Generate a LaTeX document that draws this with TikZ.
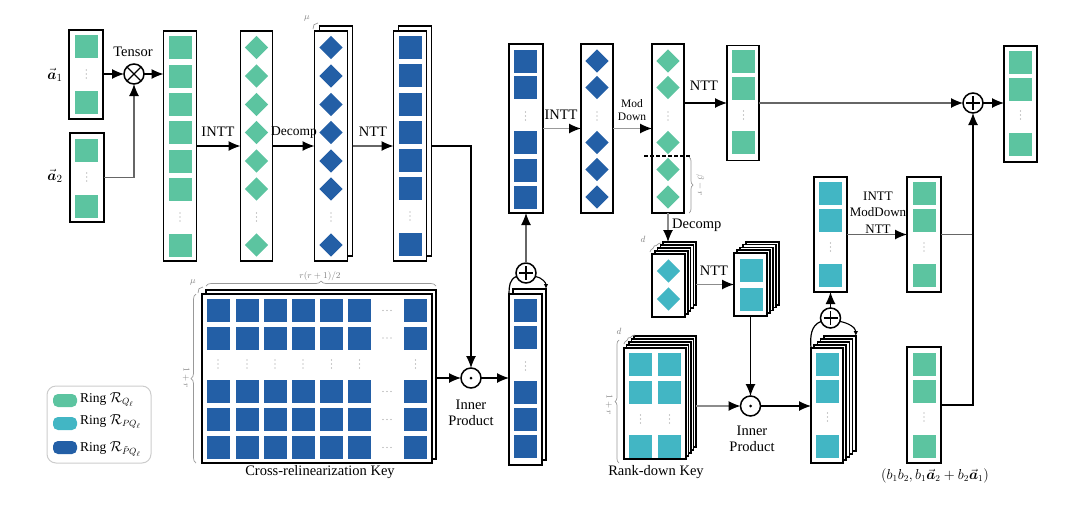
\documentclass[tikz,border=0pt]{standalone}
\usepackage{amsmath}
\usepackage{fontspec}
\setmainfont{Liberation Serif}
\usetikzlibrary{arrows.meta,decorations.pathreplacing,calc}
\definecolor{gG}{RGB}{92,196,160}
\definecolor{gC}{RGB}{66,182,196}
\definecolor{gB}{RGB}{35,95,166}
\definecolor{lgray}{RGB}{150,150,150}
\newcommand\Sq[3]{\fill[#1] ({#2-11.5},{#3-11.5}) rectangle ({#2+11.5},{#3+11.5});}
\newcommand\Dm[3]{\fill[#1] (#2,{#3-11.7}) -- ({#2+11.7},#3) -- (#2,{#3+11.7}) -- ({#2-11.7},#3) -- cycle;}
\newcommand\Vd[2]{\foreach \kk in {-4,0,4}{\fill[lgray] (#1,{#2+\kk}) circle (0.65);}}
\newcommand\Hd[2]{\foreach \kk in {-4,0,4}{\fill[lgray] ({#1+\kk},#2) circle (0.65);}}
\newcommand\Stack[8]{%
  \foreach \k in {#6,...,1}{\node[colbox,minimum width=#4,minimum height=#5] (#1-\k) at ({#2+\k*#7},{#3+\k*#8}) {};}%
  \node[colbox,minimum width=#4,minimum height=#5] (#1) at (#2,#3) {};}
\newcommand\PlusIn[1]{\draw[line width=1.1pt] ($(#1.center)+(0,-7)$) -- ($(#1.center)+(0,7)$) ($(#1.center)+(-7,0)$) -- ($(#1.center)+(7,0)$);}
\begin{document}
\begin{tikzpicture}[x=1pt,y=-1pt,
 colbox/.style={draw=black,fill=white,line width=1.5pt,inner sep=0pt,outer sep=0pt},
 op/.style={circle,draw=black,fill=white,line width=1.5pt,minimum size=20pt,inner sep=0pt,outer sep=0pt},
 arr/.style={line width=1.2pt,draw=#1,-{Latex[length=12pt,width=10pt,color=black]}},
 arr/.default=black,
 ln/.style={line width=1.2pt,draw=#1},
 ln/.default=black,
 smarr/.style={line width=1.1pt,draw=black,-{Latex[length=5pt,width=4.5pt]}},
 lbl/.style={font=\fontsize{14.5}{16}\selectfont,inner sep=1pt,align=center},
 mlbl/.style={font=\fontsize{13}{16.5}\selectfont,inner sep=1pt,align=center},
 slbl/.style={font=\fontsize{11.5}{13}\selectfont,inner sep=1pt,align=center},
 glbl/.style={font=\fontsize{9}{10}\selectfont,text=black!50,inner sep=1pt},
 legtxt/.style={font=\fontsize{13.5}{14}\selectfont,inner sep=0pt,anchor=west},
 brc/.style={draw=black!40,line width=0.7pt,decorate,decoration={brace,amplitude=#1}},
 brc/.default=5,
]
\useasboundingbox (0,0) rectangle (1084,504);

% ---------- inputs
\node[colbox,minimum width=34,minimum height=89] (a1) at (86,74.5) {};
\Sq{gG}{86.3}{46.5}\Sq{gG}{86.3}{102.5}\Vd{86.3}{74}
\node[colbox,minimum width=34,minimum height=89] (a2) at (87,177.5) {};
\Sq{gG}{86.8}{150}\Sq{gG}{86.8}{206}\Vd{86.8}{177}
\node[font=\fontsize{15}{16}\selectfont] (la1) at (55,75) {$\vec{\boldsymbol a}_1$};
\node[font=\fontsize{15}{16}\selectfont] (la2) at (55,176) {$\vec{\boldsymbol a}_2$};

\node[op] (T) at (134,74) {};
\draw[line width=1.2pt] (T.north west) -- (T.south east) (T.north east) -- (T.south west);
\node[lbl] (lT) at (133,52) {Tensor};

% ---------- column 1..4
\node[colbox,minimum width=33,minimum height=230] (c1) at (180,146) {};
\foreach \y in {47.5,76,104.5,132.5,161,189,245}{\Sq{gG}{180}{\y}}
\Vd{180}{217}
\node[colbox,minimum width=32,minimum height=230] (c2) at (256.5,146) {};
\foreach \y in {47.5,76,104.5,132.5,161,189,245}{\Dm{gG}{256.5}{\y}}
\Vd{256.5}{217}
\Stack{c3}{331}{146}{33}{230}{1}{5}{-5}
\foreach \y in {47.5,76,104.5,132.5,161,189,245}{\Dm{gB}{331}{\y}}
\Vd{331}{217}
\Stack{c4}{410}{146}{33}{230}{1}{5}{-5}
\foreach \y in {47,75.5,104.5,132.5,160.5,188.5,244.5}{\Sq{gB}{410}{\y}}
\Vd{410}{216}
\draw[brc=2] (313,29) -- (318,23);
\node[glbl] (mu1) at (307,18) {$\mu$};

% ---------- cross-relinearization key
\Stack{K}{317}{378.5}{230}{169}{1}{4}{-4}
\foreach \x in {218,247,275,303,331.5,359.5,415.5}{
  \foreach \y in {310.5,338,391.5,419.5,447.5}{\Sq{gB}{\x}{\y}}
  \Vd{\x}{364}}
\foreach \y in {310.5,338,391.5,419.5,447.5}{\Hd{387}{\y}}
\draw[brc=5] (206,286) -- (436,286);
\node[glbl] (lrr) at (320,276) {$r(r+1)/2$};
\draw[brc=5] (196,463) -- (196,294);
\node[glbl,rotate=-90] (l1r) at (186,378) {$1+r$};
\draw[brc=2] (198,293) -- (203,287);
\node[glbl] (mu2) at (193,282) {$\mu$};
\node[lbl] (lK) at (320,472) {Cross-relinearization Key};

% ---------- inner product 1
\node[op] (IP1) at (471,378) {};
\fill (IP1.center) circle (1.5);
\node[lbl] (lIP1) at (471,413) {Inner\\Product};

% ---------- column 5 and sum
\Stack{c5}{525.5}{379.5}{33}{171}{1}{4}{-5}
\foreach \y in {310.5,337.5,392,419.5,446.5}{\Sq{gB}{525.5}{\y}}
\Vd{525.5}{366}
\node[op] (P1) at (526,273) {};
\PlusIn{P1}

% ---------- columns 6..9
\node[colbox,minimum width=34,minimum height=169] (c6) at (526,128.5) {};
\foreach \y in {61,87.5,142.5,170,197}{\Sq{gB}{525.5}{\y}}
\Vd{525.5}{116}
\node[colbox,minimum width=32,minimum height=169] (c7) at (597,128.5) {};
\foreach \y in {61,87.5,142.5,169.5,197}{\Dm{gB}{597}{\y}}
\Vd{597}{116}
\node[colbox,minimum width=32,minimum height=169] (c8) at (668,128.5) {};
\foreach \y in {61,87.5,142.5,169.5,197}{\Dm{gG}{668}{\y}}
\Vd{668}{116}
\draw[dashed,line width=1.1pt,dash pattern=on 4pt off 2pt] (644,156) -- (691,156);
\draw[brc=4] (689,157) -- (689,213);
\node[glbl,rotate=-90] (lbr) at (700,185) {$\beta-r$};
\node[colbox,minimum width=32,minimum height=115] (c9) at (743,103) {};
\foreach \y in {61.5,88.5,142.5}{\Sq{gG}{743.5}{\y}}
\Vd{743.5}{115}

\node[op] (P3) at (973,103) {};
\PlusIn{P3}
\node[colbox,minimum width=33,minimum height=116] (F) at (1020.5,104) {};
\foreach \y in {62.5,89.5,144}{\Sq{gG}{1020.5}{\y}}
\Vd{1020.5}{115}

% ---------- decomp / NTT stacks
\Stack{D}{668.5}{285.5}{33}{63}{4}{2.8}{-3}
\Dm{gC}{668.5}{271}\Dm{gC}{668.5}{299}
\draw[brc=2] (650,252) -- (661,243);
\node[glbl] (ld1) at (643,239) {$d$};
\Stack{N}{750.5}{284.5}{33}{63}{4}{3}{-2.8}
\Sq{gC}{751}{270.5}\Sq{gC}{751}{299}

% ---------- rank-down key
\Stack{R}{655}{403.5}{62}{111}{4}{2.5}{-3}
\foreach \x in {640.5,669.5}{
  \foreach \y in {364.5,392.5,446.5}{\Sq{gC}{\x}{\y}}
  \Vd{\x}{419}}
\draw[brc=2] (624,344) -- (635,335);
\node[glbl] (ld2) at (619,331) {$d$};
\draw[brc=4] (619,463) -- (619,340);
\node[glbl,rotate=-90] (l1r2) at (609,405) {$1+r$};
\node[lbl] (lR) at (656,472) {Rank-down Key};

\node[op] (IP2) at (750.5,406) {};
\fill (IP2.center) circle (1.5);
\node[lbl] (lIP2) at (752,438.5) {Inner\\Product};

% ---------- sum stack
\Stack{S}{827}{405.5}{32}{115}{4}{3.2}{-3}
\foreach \y in {364.5,391.5,446}{\Sq{gC}{827.5}{\y}}
\Vd{827.5}{417}
\node[op] (P2) at (830.5,318) {};
\PlusIn{P2}

\node[colbox,minimum width=33,minimum height=115] (B1) at (830.5,234.5) {};
\foreach \y in {193.5,220.5,275}{\Sq{gC}{830.5}{\y}}
\Vd{830.5}{247}
\node[colbox,minimum width=34,minimum height=115] (B2) at (924,234.5) {};
\foreach \y in {193.5,220.5,275}{\Sq{gG}{924}{\y}}
\Vd{924}{247}
\node[colbox,minimum width=34,minimum height=116] (B3) at (924,405) {};
\foreach \y in {364.5,391.5,446}{\Sq{gG}{924}{\y}}
\Vd{924}{417}
\node[font=\fontsize{13.5}{15}\selectfont] (lB3) at (935,476) {$(b_1b_2,b_1\vec{\boldsymbol a}_2+b_2\vec{\boldsymbol a}_1)$};

% ---------- connectors
\draw[arr] (a1.east |- T.west) -- (T.west);
\draw[arr=black!60] (a2.east) -| (T.south);
\draw[arr] (T.east) -- (T.east -| c1.west);
\draw[arr] (c1.east) -- (c2.west);
\node[lbl] (lc1) at (218,132) {INTT};
\draw[arr] (c2.east) -- (c3.west);
\node[lbl,font=\fontsize{13.5}{15}\selectfont] (lc2) at (294,133) {Decomp};
\draw[arr=black!60] (c4.west -| c3-1.east) -- (c4.west);
\node[lbl] (lc3) at (373,132) {NTT};
\draw[arr] (c4.east -| c4-1.east) -| (IP1.north);
\draw[arr] (IP1.west -| K-1.east) -- (IP1.west);
\draw[arr] (IP1.east) -- (IP1.east -| c5.west);
\draw[ln] (c5.north west) to[out=90,in=200] (P1.200);
\draw[smarr] (P1.-20) to[out=-10,in=90] (c5-1.north east);
\draw[arr=black!60] (P1.north) -- (P1.north |- c6.south);
\draw[arr=black!40] (c6.east) -- (c7.west);
\node[lbl] (lc6) at (561,115) {INTT};
\draw[arr=black!40] (c7.east) -- (c8.west);
\node[slbl] (lc7) at (632,110) {Mod\\Down};
\draw[arr] (c8.east |- c9.west) -- (c9.west);
\node[lbl] (lc8) at (704,86) {NTT};
\draw[arr=black!60] (c9.east) -- (c9.east -| P3.west);
\draw[arr] (P3.east) -- (P3.east -| F.west);
\draw[arr=black!45] (c8.south) -- (c8.south |- D-4.north);
\node[lbl,anchor=west] (lc8d) at (671,225) {Decomp};
\draw[arr=black!45] (N.west -| D-4.east) -- (N.west);
\node[lbl] (lDN) at (714,271) {NTT};
\draw[arr] (N.south) -- (N.south |- IP2.north);
\draw[arr=black!45] (IP2.west -| R-4.east) -- (IP2.west);
\draw[arr] (IP2.east) -- (IP2.east -| S.west);
\draw[ln] (S.north west) to[out=95,in=200] (P2.200);
\draw[smarr] (P2.-20) to[out=-10,in=90] (S-4.north east);
\draw[arr] (P2.north) -- (P2.north |- B1.south);
\draw[arr=black!60] (B1.east) -- (B2.west);
\node[mlbl] (lB1) at (878,212.5) {INTT\\ModDown\\NTT};
\draw[ln=black!60] (B2.east) -- (B2.east -| P3.south);
\draw[arr] (B3.east) -| (P3.south);

% ---------- legend
\node[draw=black!20,rounded corners=9pt,line width=1pt,minimum width=104,minimum height=77,inner sep=0pt] (leg) at (99,424.5) {};
\fill[gG,rounded corners=5pt] (53,394) rectangle (77,407);
\fill[gC,rounded corners=5pt] (53,417) rectangle (77,430);
\fill[gB,rounded corners=5pt] (53,441) rectangle (77,454);
\node[legtxt] (lg1) at (80,399.5) {Ring $\mathcal{R}_{Q_\ell}$};
\node[legtxt] (lg2) at (80,421.5) {Ring $\mathcal{R}_{PQ_\ell}$};
\node[legtxt] (lg3) at (80,449) {Ring $\mathcal{R}_{\tilde{P}Q_\ell}$};
\end{tikzpicture}
\end{document}
